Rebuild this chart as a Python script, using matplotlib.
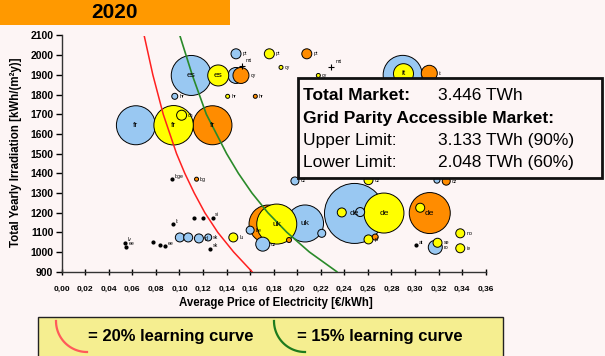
import numpy as np
import pandas as pd
import matplotlib
matplotlib.use("Agg")
import matplotlib.pyplot as plt
from matplotlib.patches import Rectangle
from matplotlib.lines import Line2D

plt.rcParams['font.family'] = ['Liberation Sans', 'DejaVu Sans']

# ---------------- data ----------------
title = "2020"
x_ticks = [0.00, 0.02, 0.04, 0.06, 0.08, 0.10, 0.12, 0.14, 0.16, 0.18,
           0.20, 0.22, 0.24, 0.26, 0.28, 0.30, 0.32, 0.34, 0.36]
x_tick_labels = ["0,00", "0,02", "0,04", "0,06", "0,08", "0,10", "0,12", "0,14", "0,16", "0,18",
                 "0,20", "0,22", "0,24", "0,26", "0,28", "0,30", "0,32", "0,34", "0,36"]
y_ticks = [900, 1000, 1100, 1200, 1300, 1400, 1500, 1600, 1700, 1800, 1900, 2000, 2100]
y_tick_labels = [str(v) for v in y_ticks]

# blue series (price EUR/kWh, irradiation kWh/m2y, bubble size, label)
blue_x = [0.148, 0.110, 0.148, 0.096, 0.063, 0.2895, 0.198, 0.160, 0.2066, 0.2208,
          0.1707, 0.2486, 0.2534, 0.3172, 0.1003, 0.1074, 0.1165, 0.1244, 0.3186]
blue_y = [2007, 1897, 1897, 1791, 1644, 1900, 1361, 1111, 1145, 1095,
          1040, 1196, 1203, 1024, 1074, 1074, 1069, 1074, 1365]
blue_size = [5, 20, 8, 3, 19.5, 19.5, 4, 4, 18.5, 4,
             7, 30, 4.5, 7, 4.5, 4.5, 4.5, 3.5, 3]
blue_lab = ["pt", "es", "", "hr", "fr", "", "cz", "be", "uk", "",
            "cz", "de", "", "ro", "", "", "pl", "sk", ""]

yellow_x = [0.1763, 0.1329, 0.1409, 0.1862, 0.2179, 0.095, 0.1018, 0.2902, 0.2605, 0.1826,
            0.1457, 0.2736, 0.2378, 0.2605, 0.3044, 0.3384, 0.3384, 0.3191]
yellow_y = [2007, 1897, 1791, 1938, 1897, 1644, 1695, 1906, 1365, 1142,
            1074, 1198, 1201, 1064, 1225, 1095, 1019, 1047]
yellow_size = [5, 10.5, 2, 2, 2, 19.7, 5, 10, 4.5, 20,
               4.5, 20, 4.5, 4.5, 4.5, 4.5, 4.5, 4.5]
yellow_lab = ["pt", "es", "hr", "cy", "cy", "fr", "ch", "it", "cz", "uk",
              "lu", "de", "", "pl", "", "no", "ie", "se"]

orange_x = [0.2081, 0.1522, 0.1644, 0.128, 0.3121, 0.3265, 0.1752, 0.3125, 0.1145, 0.2662, 0.193]
orange_y = [2007, 1897, 1791, 1644, 1908, 1360, 1142, 1198, 1370, 1076, 1061]
orange_size = [5, 8, 2, 19.5, 8, 4, 19, 20.5, 2, 3, 2.5]
orange_lab = ["pt", "cy", "hr", "fr", "it", "cz", "", "de", "bg", "", ""]

# very small markets (dots)
tiny_x = [0.0935, 0.1122, 0.1196, 0.1281, 0.0946, 0.0536, 0.0544, 0.0776, 0.0833, 0.0876, 0.3010, 0.1259]
tiny_y = [1370, 1174, 1174, 1174, 1140, 1047, 1027, 1052, 1035, 1030, 1035, 1017]
tiny_lab = ["bge", "", "", "si", "lt", "lv", "ee", "", "", "ee", "at", "sk"]
cross_x = [0.1528, 0.2287]
cross_y = [1943, 1940]
cross_lab = ["mt", "mt"]

# learning curves (price at which PV reaches grid parity vs irradiation)
red_x = [0.0700, 0.0774, 0.0862, 0.0975, 0.1045, 0.1125, 0.1215, 0.1325, 0.1460, 0.1616]
red_y = [2100, 1900, 1700, 1500, 1400, 1300, 1200, 1100, 1000, 900]
green_x = [0.1003, 0.1108, 0.1228, 0.1400, 0.1500, 0.1615, 0.1750, 0.1912, 0.2103, 0.2336]
green_y = [2100, 1900, 1700, 1500, 1400, 1300, 1200, 1100, 1000, 900]

box_lines = [("Total Market:", "3.446 TWh", "bold"),
             ("Grid Parity Accessible Market:", "", "bold"),
             ("Upper Limit:", "3.133 TWh (90%)", "normal"),
             ("Lower Limit:", "2.048 TWh (60%)", "normal")]
legend_labels = ["= 20% learning curve", "= 15% learning curve"]

# ---------------- style ----------------
BG = "#FDF5F5"
C_BLUE = "#99C8F2"
C_YEL = "#FFFF00"
C_ORA = "#FF8C00"
W, H = 605, 356

fig = plt.figure(figsize=(6.05, 3.56), dpi=100, facecolor=BG)
ax = fig.add_axes([61.7 / W, 1 - 271.7 / H, (485.7 - 61.7) / W, (271.7 - 35.5) / H])
ax.set_facecolor(BG)
ax.set_xlim(0, 0.36)
ax.set_ylim(900, 2100)
for s in ["top", "right"]:
    ax.spines[s].set_visible(False)
for s in ["left", "bottom"]:
    ax.spines[s].set_color("#333333")
    ax.spines[s].set_linewidth(1.0)
ax.set_xticks(x_ticks)
ax.set_xticklabels(x_tick_labels, fontsize=6.0, fontweight="bold")
ax.set_yticks(y_ticks)
ax.set_yticklabels(y_tick_labels, fontsize=7.5, fontweight="bold")
ax.tick_params(axis="x", direction="inout", length=5, width=1, pad=8)
ax.tick_params(axis="y", direction="out", length=4, width=1, pad=2)

# curves
ax.plot(red_x, red_y, color="#FF2020", lw=1.1, zorder=4)
ax.plot(green_x, green_y, color="#2A8A2A", lw=1.2, zorder=4)

# bubbles
df = pd.DataFrame({
    "x": blue_x + orange_x + yellow_x,
    "y": blue_y + orange_y + yellow_y,
    "size": blue_size + orange_size + yellow_size,
    "lab": blue_lab + orange_lab + yellow_lab,
    "color": [C_BLUE] * len(blue_x) + [C_ORA] * len(orange_x) + [C_YEL] * len(yellow_x),
    "series": [0] * len(blue_x) + [1] * len(orange_x) + [2] * len(yellow_x),
})
big = df[df["size"] >= 7.5].sort_values(["series", "size"], ascending=[True, False], kind="stable")
small = df[df["size"] < 7.5].sort_values("size", ascending=False, kind="stable")
for part in (big, small):
    ax.scatter(part["x"], part["y"], s=(1.44 * part["size"]) ** 2, c=part["color"],
               edgecolors="black", linewidths=0.7, zorder=3)

for _, r in df.iterrows():
    if not r["lab"]:
        continue
    if r["size"] >= 9:
        ax.annotate(r["lab"], (r["x"], r["y"]), ha="center", va="center",
                    fontsize=6, zorder=6)
    else:
        ax.annotate(r["lab"], (r["x"], r["y"]), xytext=((r["size"] + 1.5) * 0.72, 0),
                    textcoords="offset points", ha="left", va="center",
                    fontsize=3.8, zorder=6)

ax.scatter(tiny_x, tiny_y, s=4, c="black", zorder=5)
for x, y, l in zip(tiny_x, tiny_y, tiny_lab):
    if l:
        ax.annotate(l, (x, y), xytext=(2, 2), textcoords="offset points",
                    fontsize=3.8, ha="left", va="center", zorder=6)
ax.scatter(cross_x, cross_y, s=14, marker="+", c="black", linewidths=0.8, zorder=5)
for x, y, l in zip(cross_x, cross_y, cross_lab):
    ax.annotate(l, (x, y), xytext=(3, 4), textcoords="offset points",
                fontsize=3.8, ha="left", va="center", zorder=6)

# axis titles
fig.text(16 / W, 1 - 152.5 / H, "Total Yearly Irradiation [kWh/(m²y)]", rotation=90,
         ha="center", va="center", fontsize=8.3, fontweight="bold")
fig.text(276 / W, 1 - 303 / H, "Average Price of Electricity [€/kWh]",
         ha="center", va="center", fontsize=8.3, fontweight="bold")

# title banner
fig.add_artist(Rectangle((0, 1 - 24.5 / H), 230 / W, 24.5 / H, transform=fig.transFigure,
                         facecolor="#FF9900", edgecolor="none", zorder=1))
fig.text(114 / W, 1 - 13 / H, title, ha="center", va="center", fontsize=15,
         fontweight="bold", zorder=2)

# info box
fig.add_artist(Rectangle((298 / W, 1 - 178 / H), (602 - 298) / W, 100 / H,
                         transform=fig.transFigure, facecolor=BG, edgecolor="#111111",
                         linewidth=2, zorder=10))
line_y = [96, 119, 141, 163]
for (left, right, wt), yy in zip(box_lines, line_y):
    fig.text(303 / W, 1 - yy / H, left, ha="left", va="center", fontsize=12.5,
             fontweight=wt, zorder=11)
    if right:
        fig.text(438 / W, 1 - yy / H, right, ha="left", va="center", fontsize=12.5,
                 fontweight="normal", zorder=11)

# legend box
fig.add_artist(Rectangle((38 / W, -0.02), (503 - 38) / W, (356 - 317) / H + 0.02,
                         transform=fig.transFigure, facecolor="#F5EE90",
                         edgecolor="#222222", linewidth=1, zorder=10))
theta = np.linspace(np.pi / 2, np.pi, 40)
for cx, col, tx, lab in [(87, "#FF5A5A", 88, legend_labels[0]),
                         (305, "#1E7B1E", 297, legend_labels[1])]:
    px = cx + 31 * np.cos(theta)
    py = 321 + 31 * np.sin(theta)
    fig.add_artist(Line2D(px / W, 1 - py / H, transform=fig.transFigure,
                          color=col, lw=1.6, zorder=11))
    fig.text(tx / W, 1 - 337 / H, lab, ha="left", va="center", fontsize=12,
             fontweight="bold", zorder=11)

fig.savefig("out.png", dpi=100, facecolor=BG)
